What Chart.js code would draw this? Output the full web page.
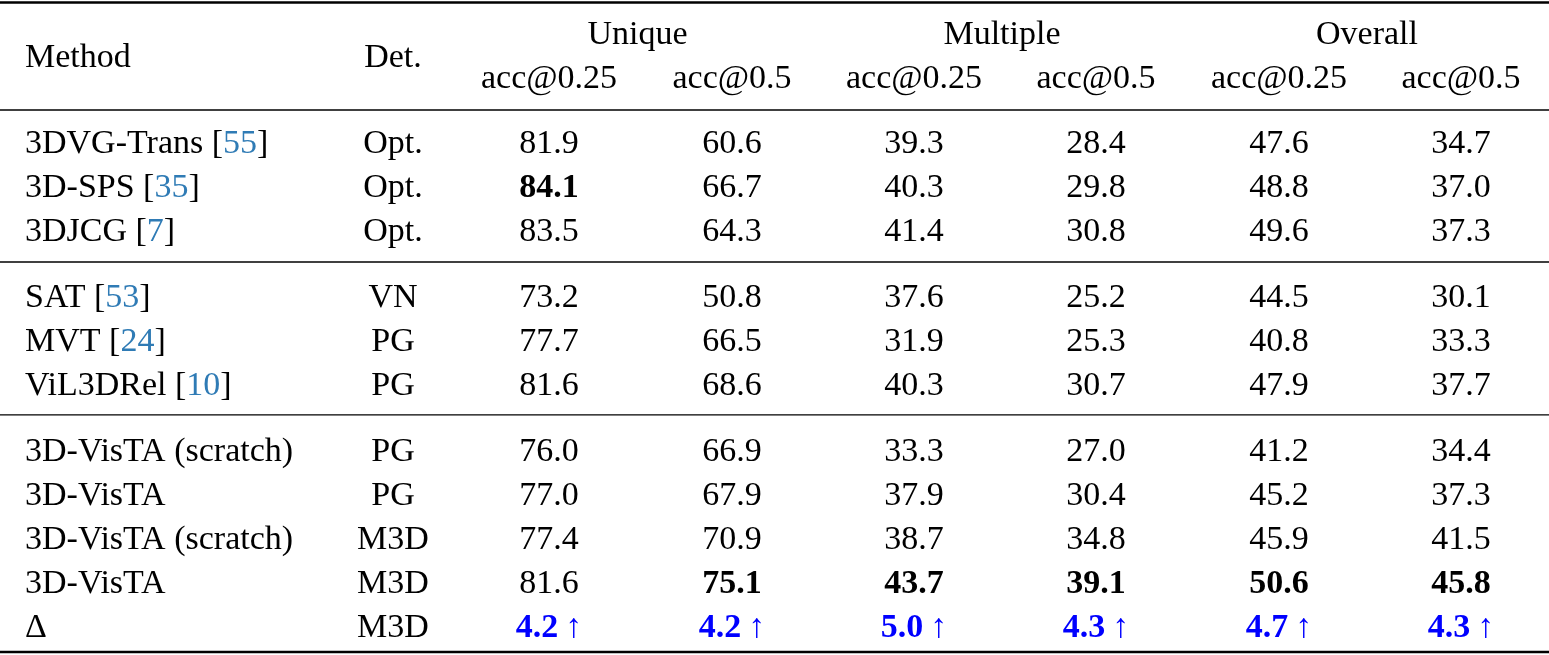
<!DOCTYPE html>
<html><head><meta charset="utf-8">
<script src="https://cdn.jsdelivr.net/npm/chart.js@4"></script>
<style>html,body{margin:0;padding:0;background:#fff}#w{width:1549px;height:655px}</style>
</head><body><div id="w"><canvas id="c"></canvas></div>
<script>
const methods = ["3DVG-Trans","3D-SPS","3DJCG","SAT","MVT","ViL3DRel","3D-VisTA (scratch)","3D-VisTA","3D-VisTA (scratch)","3D-VisTA","\u0394"];
const refs = ["55","35","7","53","24","10","","","","",""];
const detectors = ["Opt.","Opt.","Opt.","VN","PG","PG","PG","PG","M3D","M3D","M3D"];
const groups = ["Unique","Multiple","Overall"];
const metrics = ["acc@0.25","acc@0.5","acc@0.25","acc@0.5","acc@0.25","acc@0.5"];
const uniq25 = [81.9,84.1,83.5,73.2,77.7,81.6,76.0,77.0,77.4,81.6,4.2];
const uniq50 = [60.6,66.7,64.3,50.8,66.5,68.6,66.9,67.9,70.9,75.1,4.2];
const mult25 = [39.3,40.3,41.4,37.6,31.9,40.3,33.3,37.9,38.7,43.7,5.0];
const mult50 = [28.4,29.8,30.8,25.2,25.3,30.7,27.0,30.4,34.8,39.1,4.3];
const over25 = [47.6,48.8,49.6,44.5,40.8,47.9,41.2,45.2,45.9,50.6,4.7];
const over50 = [34.7,37.0,37.3,30.1,33.3,37.7,34.4,37.3,41.5,45.8,4.3];
const rowGroup = [0,0,0,1,1,1,2,2,2,2,2];
const boldCells = [[1,0],[9,1],[9,2],[9,3],[9,4],[9,5]];

const colX = [549,732,914,1096,1279,1461];
const methodX = 25, detX = 393;
const cols = [uniq25,uniq50,mult25,mult50,over25,over50];
const rowY = methods.map((m,i)=> i + 0.5*rowGroup[i]);
const FONT = 'Liberation Serif, "Times New Roman", serif';
const FS = 34;
const DY = 2/44;

const tablePlugin = {
  id:'table',
  afterDraw(chart){
    const ctx = chart.ctx, xs = chart.scales.x, ys = chart.scales.y;
    const X = v=>xs.getPixelForValue(v), Y = v=>ys.getPixelForValue(v+DY);
    ctx.save();
    ctx.textBaseline='middle';
    const txt=(s,x,y,align,bold,color)=>{
      ctx.font=(bold?'bold ':'')+FS+'px '+FONT;
      ctx.textAlign=align; ctx.fillStyle=color||'#000'; ctx.fillText(s,x,y);
    };
    txt("Method",X(methodX),Y(-1.95),'left');
    txt("Det.",X(detX),Y(-1.95),'center');
    groups.forEach((g,i)=>txt(g,(X(colX[2*i])+X(colX[2*i+1]))/2-3,Y(-2.48),'center'));
    metrics.forEach((m,i)=>txt(m,X(colX[i]),Y(-1.48),'center'));
    methods.forEach((m,i)=>{
      const y=Y(rowY[i]);
      ctx.font=FS+'px '+FONT; ctx.textAlign='left'; ctx.fillStyle='#000';
      let x=X(methodX);
      if(refs[i]){
        const a=m+' [';
        ctx.fillText(a,x,y); x+=ctx.measureText(a).width;
        ctx.fillStyle='#2f7bb5'; ctx.fillText(refs[i],x,y); x+=ctx.measureText(refs[i]).width;
        ctx.fillStyle='#000'; ctx.fillText(']',x,y);
      } else ctx.fillText(m,x,y);
      txt(detectors[i],X(detX),y,'center');
      cols.forEach((c,j)=>{
        const isDelta = i===methods.length-1;
        const bold = isDelta || boldCells.some(b=>b[0]===i&&b[1]===j);
        const s = c[i].toFixed(1) + (isDelta?'\u2009\u2191':'');
        txt(s,X(colX[j]),y,'center',bold,isDelta?'#0000ff':'#000');
      });
    });
    const Yr=v=>ys.getPixelForValue(v);
    const rule=(v,w)=>{ctx.beginPath();ctx.lineWidth=w;ctx.strokeStyle='#000';ctx.moveTo(X(0),Yr(v));ctx.lineTo(X(1549),Yr(v));ctx.stroke();};
    rule(-3.17,2.5); rule(-0.727,1.3); rule(2.727,1.3); rule(6.2,1.3); rule(11.59,2.5);
    ctx.restore();
  }
};

new Chart(document.getElementById('c'),{
  type:'scatter',
  data:{datasets:[{data:rowY.map(y=>({x:methodX,y})),pointRadius:0}]},
  options:{
    responsive:true,maintainAspectRatio:false,animation:false,
    layout:{padding:0},
    plugins:{legend:{display:false},tooltip:{enabled:false}},
    scales:{
      x:{type:'linear',min:0,max:1549,display:false},
      y:{type:'linear',min:-142/44,max:513/44,reverse:true,display:false}
    }
  },
  plugins:[tablePlugin]
});
</script></body></html>
